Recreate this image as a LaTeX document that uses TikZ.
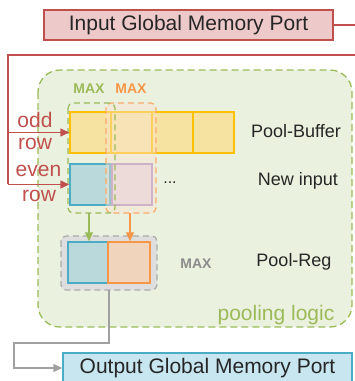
\documentclass[tikz,border=0pt]{standalone}
\usepackage{fontspec}
\setmainfont{Liberation Sans}
\usetikzlibrary{arrows.meta}

\definecolor{portred}{HTML}{C0504D}
\definecolor{portredfill}{HTML}{EEC9C9}
\definecolor{logicgreen}{HTML}{9BBB59}
\definecolor{logicfill}{HTML}{EBF1DF}
\definecolor{bufgold}{HTML}{FFC000}
\definecolor{buffill}{HTML}{F6E3A2}
\definecolor{cellblue}{HTML}{4BACC6}
\definecolor{cellbluefill}{HTML}{B9D9DA}
\definecolor{cellpurple}{HTML}{A98BC5}
\definecolor{cellpurplefill}{HTML}{E1D6DF}
\definecolor{maxorange}{HTML}{F79646}
\definecolor{maxorangefill}{HTML}{F0D5BC}
\definecolor{windowfill}{HTML}{FBE3D0}
\definecolor{outfill}{HTML}{C8E6F0}
\definecolor{wiregray}{HTML}{A0A0A0}
\definecolor{txt}{HTML}{262626}

\tikzset{
  bigtxt/.style={font=\fontsize{21}{22}\selectfont},
  midtxt/.style={font=\fontsize{18}{19}\selectfont, text=txt},
  maxtxt/.style={font=\bfseries\fontsize{14}{15}\selectfont},
  port/.style={draw, line width=1.5pt, inner sep=0pt, minimum width=289pt,
    minimum height=30pt, bigtxt, text=txt},
  cell/.style={draw, line width=1.5pt, inner sep=0pt, minimum width=41pt,
    minimum height=41pt},
  bufcell/.style={cell, draw=bufgold, fill=buffill},
  redarrow/.style={draw=portred, line width=1.5pt, -{Triangle[length=9pt,width=8pt]}},
  grayarrow/.style={draw=wiregray, line width=1.5pt, -{Triangle[length=9pt,width=8pt]}},
  grouptag/.style={line width=1.2pt, dash pattern=on 6pt off 4pt, rounded corners=5pt},
}

\begin{document}
\begin{tikzpicture}[x=1pt,y=-1pt]
\clip (0,0) rectangle (355,381);
\useasboundingbox (0,0) rectangle (355,381);

% pooling logic region
\draw[draw=logicgreen, fill=logicfill, line width=1.3pt, dash pattern=on 7pt off 4pt,
  rounded corners=22pt] (38,70) rectangle (352,327);
\node[bigtxt, text=logicgreen] (plabel) at (276,315) {pooling logic};

% ports
\node[port, draw=portred, fill=portredfill] (inport) at (188.5,25) {Input Global Memory Port};
\node[port, draw=cellblue, fill=outfill] (outport) at (207.5,368) {Output Global Memory Port};

% pool buffer row
\node[bufcell] (pb1) at (90.5,132.5) {};
\node[bufcell] (pb2) at (131.5,132.5) {};
\node[bufcell] (pb3) at (172.5,132.5) {};
\node[bufcell] (pb4) at (213.5,132.5) {};

% new input row
\node[cell, minimum width=40pt, draw=cellblue, fill=cellbluefill] (ni1) at (90,184.5) {};
\node[cell, minimum width=40pt, draw=cellpurple, fill=cellpurplefill] (ni2) at (132,184.5) {};
\node[font=\fontsize{16}{16}\selectfont, text=txt] (dots) at (170,183) {...};

% max window groups
\draw[grouptag, draw=maxorange!80, fill=windowfill, fill opacity=0.45] (106,103) rectangle (156,213);
\draw[grouptag, draw=logicgreen] (68,103) rectangle (115,213);
\coordinate (gbot) at (89,213);
\coordinate (obot) at (130,213);
\node[maxtxt, text=logicgreen] (maxg) at (89,89) {MAX};
\node[maxtxt, text=maxorange] (maxo) at (131,89) {MAX};

% pool register
\draw[grouptag, draw=wiregray!90, fill=black!13] (61,236) rectangle (157,290);
\coordinate (rbot) at (109,290);
\node[cell, minimum width=40pt, draw=cellblue, fill=cellbluefill] (pr1) at (88,262.5) {};
\node[cell, minimum width=42pt, draw=maxorange, fill=maxorangefill] (pr2) at (129,262.5) {};
\node[maxtxt, text=black!45] (maxr) at (196,264) {MAX};

% labels
\node[midtxt] (lbuf) at (296,131) {Pool-Buffer};
\node[midtxt] (lnew) at (298,181) {New input};
\node[midtxt] (lreg) at (294,262) {Pool-Reg};

% row selectors
\node[bigtxt, text=portred] (odd) at (35,120) {odd};
\node[bigtxt, text=portred] (row1) at (35,144) {row};
\node[bigtxt, text=portred] (even) at (38.5,171) {even};
\node[bigtxt, text=portred] (row2) at (39,196) {row};

% input wiring
\coordinate (wr) at (365,25);
\coordinate (wl) at (8,55);
\draw[draw=portred, line width=1.5pt] (inport.east) -- (wr) |- (wl) -- (8,184);
\draw[redarrow] (8,132.5) -- (pb1.west);
\draw[redarrow] (8,184.5) -- (ni1.west);

% window to register
\draw[draw=logicgreen, line width=1.5pt, -{Triangle[length=9pt,width=8pt]}] (gbot) -- (gbot |- pr1.north);
\draw[draw=maxorange, line width=1.5pt, -{Triangle[length=9pt,width=8pt]}] (obot) -- (obot |- pr2.north);

% register to output
\draw[grayarrow] (rbot) -- (109,343) -- (14,343) |- (outport.west);
\end{tikzpicture}
\end{document}
